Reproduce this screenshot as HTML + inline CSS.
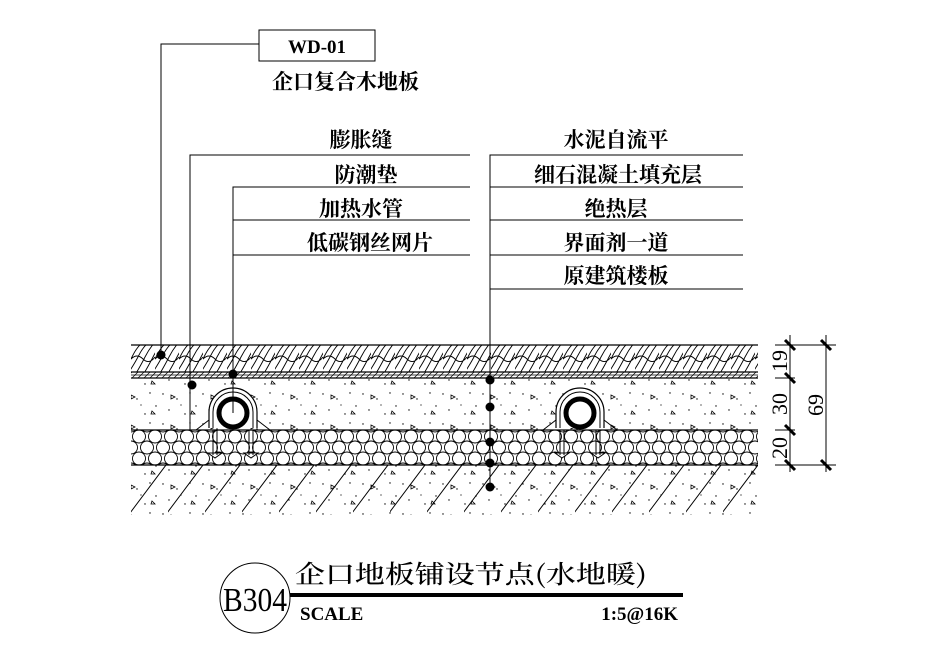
<!DOCTYPE html>
<html><head><meta charset="utf-8"><style>
html,body{margin:0;padding:0;background:#fff;}
svg{display:block}
.t{font-family:"Liberation Serif","Noto Serif CJK SC",serif;fill:#000}
.c{font-family:"Noto Serif CJK SC","Noto Sans CJK SC",serif;fill:#000;font-weight:bold}
</style></head><body>
<svg width="948" height="668" viewBox="0 0 948 668" xmlns="http://www.w3.org/2000/svg">
<defs>
<pattern id="wood" width="24" height="27" patternUnits="userSpaceOnUse" x="131" y="345">
<path d="M-4 30 Q4 18 8 10 T18 -3 M4 30 Q10 20 14 12 T24 -3 M12 30 Q18 20 22 12 T32 -3 M-10 30 Q-2 18 2 10 T12 -3 M0 14 Q6 8 12 14 T24 12" stroke="#000" stroke-width="0.9" fill="none"/>
</pattern>
<pattern id="conc" width="40" height="30" patternUnits="userSpaceOnUse">
<g fill="#000"><circle cx="3" cy="4" r="0.7"/><circle cx="17" cy="9" r="0.7"/><circle cx="30" cy="3" r="0.7"/><circle cx="9" cy="20" r="0.7"/><circle cx="25" cy="24" r="0.7"/><circle cx="36" cy="16" r="0.7"/><circle cx="21" cy="15" r="0.6"/></g>
<path d="M11 5 l4 2 l-4 2z M32 21 l3 3 l-4 0z" fill="none" stroke="#000" stroke-width="0.8"/>
</pattern>
<pattern id="hex2" width="16" height="22" patternUnits="userSpaceOnUse" x="131" y="431">
<g fill="none" stroke="#000" stroke-width="0.9">
<circle cx="8" cy="5.5" r="6.5"/>
<circle cx="0" cy="16.5" r="6.5"/>
<circle cx="16" cy="16.5" r="6.5"/>
<circle cx="8" cy="27.5" r="6.5"/>
<circle cx="0" cy="-5.5" r="6.5"/>
<circle cx="16" cy="-5.5" r="6.5"/>
</g>
</pattern>
<pattern id="diag" width="37" height="50" patternUnits="userSpaceOnUse" x="131" y="465">
<path d="M-10 60 L50 -20" stroke="#000" stroke-width="1" fill="none"/>
</pattern>
<pattern id="thin" width="6" height="6" patternUnits="userSpaceOnUse">
<path d="M0 6 L6 0" stroke="#000" stroke-width="0.7"/>
</pattern>
</defs>

<rect x="131" y="345" width="627" height="27" fill="url(#wood)"/>
<rect x="131" y="372" width="627" height="6" fill="url(#thin)"/>
<rect x="131" y="378" width="627" height="52" fill="url(#conc)"/>
<rect x="131" y="430" width="627" height="35" fill="url(#hex2)"/>
<rect x="131" y="465" width="627" height="50" fill="url(#diag)"/>
<rect x="131" y="465" width="627" height="50" fill="url(#conc)"/>
<g stroke="#000" stroke-width="1.2">
<line x1="131" y1="345" x2="758" y2="345"/>
<line x1="131" y1="372" x2="758" y2="372"/>
<line x1="131" y1="375" x2="758" y2="375" stroke-width="0.8"/>
<line x1="131" y1="378" x2="758" y2="378"/>
<line x1="131" y1="430" x2="758" y2="430"/>
<line x1="131" y1="465" x2="758" y2="465"/>
</g>

<g id="p1" stroke="#000" fill="none">
<path d="M209 428 L209 412 A24 24 0 0 1 257 412 L257 428" stroke-width="1.2" fill="#fff"/>
<path d="M213 428 L213 412 A20 20 0 0 1 253 412 L253 428" stroke-width="1"/>
<path d="M196 430 L209 420 M257 420 L270 430 M196 430 L270 430" stroke-width="1"/>
<circle cx="233" cy="413" r="14" stroke-width="5" fill="#fff"/>
<path d="M213 430 V455 M217 430 V455 M249 430 V455 M253 430 V455 M208 453 H222 L215 458Z M244 453 H258 L251 458Z" stroke-width="1" fill="#fff"/>
</g>
<use href="#p1" x="347" y="0"/>
<line x1="190" y1="378" x2="190" y2="430" stroke="#000"/>

<g stroke="#000" stroke-width="1" fill="none">
<polyline points="259,44 161,44 161,355"/>
<rect x="259" y="30" width="116" height="31"/>
<polyline points="470,155 190,155 190,385"/>
<polyline points="470,187 233,187 233,413"/>
<line x1="233" y1="220" x2="470" y2="220"/>
<line x1="233" y1="255" x2="470" y2="255"/>
<polyline points="743,155 490,155 490,487"/>
<line x1="490" y1="187" x2="743" y2="187"/>
<line x1="490" y1="220" x2="743" y2="220"/>
<line x1="490" y1="255" x2="743" y2="255"/>
<line x1="490" y1="289" x2="743" y2="289"/>
</g>
<g fill="#000">
<circle cx="161" cy="355" r="4.5"/><circle cx="192" cy="385" r="4.5"/><circle cx="233" cy="374" r="4.5"/>
<circle cx="490" cy="380" r="4.5"/><circle cx="490" cy="407" r="4.5"/><circle cx="490" cy="442" r="4.5"/><circle cx="490" cy="463" r="4.5"/><circle cx="490" cy="487" r="4.5"/>
</g>

<text class="t" x="317" y="53" font-size="19" font-weight="bold" text-anchor="middle">WD-01</text>
<g class="c" font-size="21">
<text x="272" y="89">企口复合木地板</text>
<g text-anchor="middle">
<text x="361" y="147">膨胀缝</text>
<text x="366" y="182">防潮垫</text>
<text x="361" y="216">加热水管</text>
<text x="370" y="250">低碳钢丝网片</text>
<text x="616" y="147">水泥自流平</text>
<text x="618" y="182">细石混凝土填充层</text>
<text x="616" y="216">绝热层</text>
<text x="616" y="250">界面剂一道</text>
<text x="616" y="283">原建筑楼板</text>
</g></g>

<g stroke="#000" stroke-width="1">
<line x1="790" y1="335" x2="790" y2="472"/>
<line x1="826" y1="335" x2="826" y2="472"/>
<line x1="775" y1="345" x2="836" y2="345"/>
<line x1="775" y1="378" x2="795" y2="378"/>
<line x1="775" y1="430" x2="795" y2="430"/>
<line x1="775" y1="465" x2="836" y2="465"/>
</g>
<g stroke="#000" stroke-width="3">
<line x1="785" y1="340" x2="795" y2="350"/><line x1="821" y1="340" x2="831" y2="350"/>
<line x1="785" y1="373" x2="795" y2="383"/><line x1="785" y1="425" x2="795" y2="435"/>
<line x1="785" y1="460" x2="795" y2="470"/><line x1="821" y1="460" x2="831" y2="470"/>
</g>
<g class="t" font-size="22">
<text transform="translate(787,361) rotate(-90)" text-anchor="middle">19</text>
<text transform="translate(787,404) rotate(-90)" text-anchor="middle">30</text>
<text transform="translate(787,448) rotate(-90)" text-anchor="middle">20</text>
<text transform="translate(823,405) rotate(-90)" text-anchor="middle">69</text>
</g>

<circle cx="255" cy="598" r="35" fill="none" stroke="#000" stroke-width="1"/>
<text class="t" x="255" y="611" font-size="34" text-anchor="middle" textLength="64" lengthAdjust="spacingAndGlyphs">B304</text>
<line x1="290" y1="595" x2="683" y2="595" stroke="#000" stroke-width="4"/>
<text class="c" x="295" y="583" font-size="25" font-weight="normal" style="font-weight:500" textLength="352" lengthAdjust="spacingAndGlyphs">企口地板铺设节点(水地暖)</text>
<text class="t" x="300" y="620" font-size="19" font-weight="bold">SCALE</text>
<text class="t" x="678" y="620" font-size="19" font-weight="bold" text-anchor="end">1:5@16K</text>
</svg>
</body></html>
